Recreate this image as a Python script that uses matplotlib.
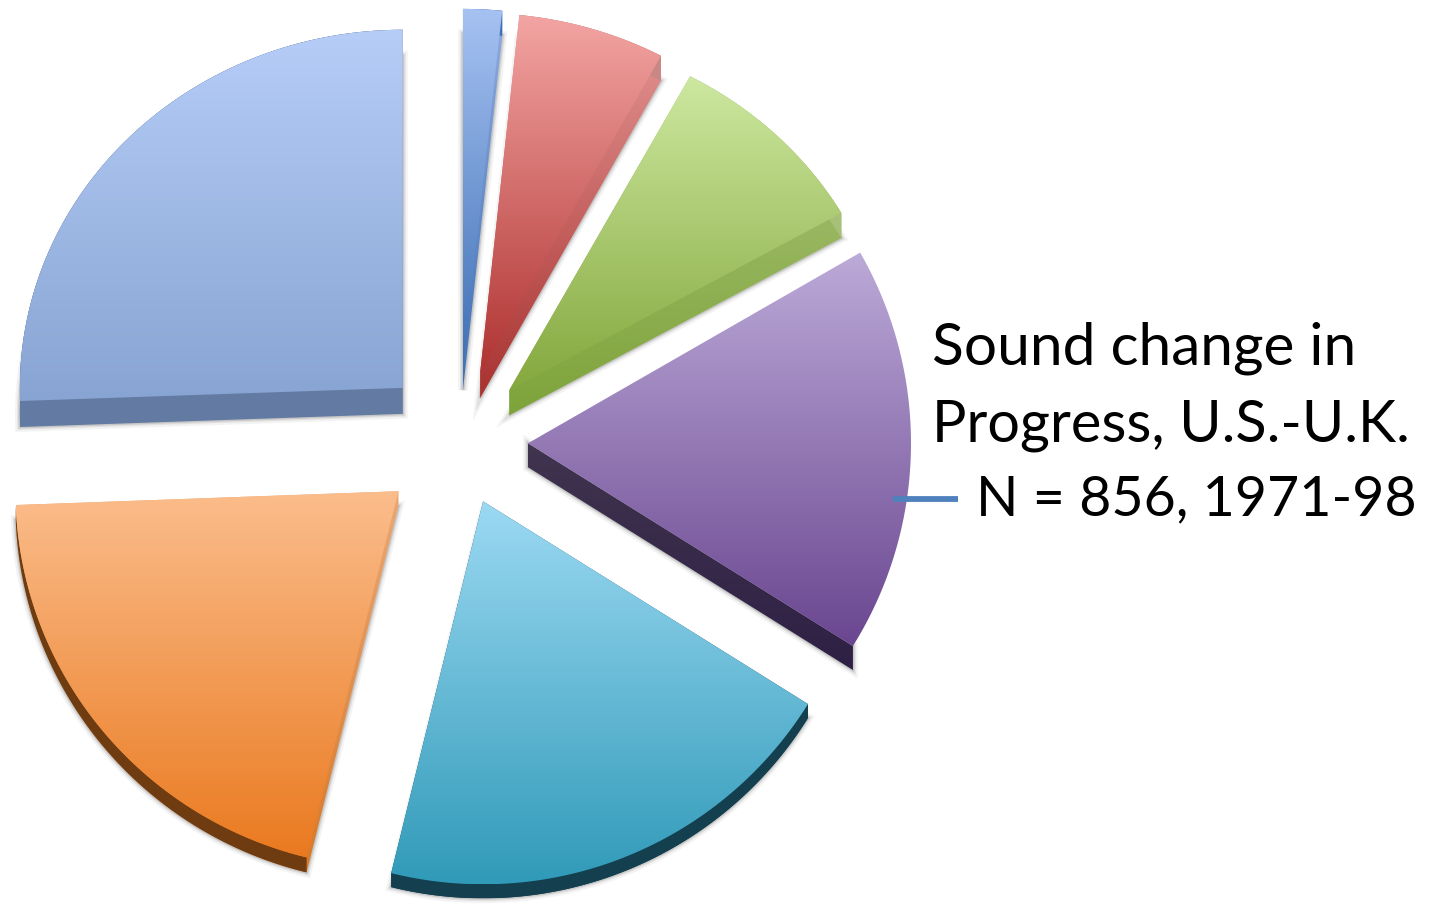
import numpy as np
import matplotlib
matplotlib.use("Agg")
import matplotlib.pyplot as plt
from matplotlib.colors import LinearSegmentedColormap, to_rgb
from matplotlib.patches import Polygon

# share of N = 856, clockwise from twelve o'clock
counts = [14, 53, 76, 147, 171, 176, 219]
top_colors = ["#a6c2f2", "#f3a5a3", "#cde8a0", "#bcaad8", "#9cd9f3", "#fbbd8c", "#b6cdf8"]
bottom_colors = ["#3f70b5", "#b03432", "#85a83e", "#6a4690", "#309ab8", "#ea7a20", "#88a4d2"]
side_top_colors = ["#8fabe0", "#e69a98", "#adc67e", "#40344f", "#1a5566", "#eaa874", "#6a80a8"]
side_bottom_colors = ["#3f70b5", "#a83230", "#7ea33a", "#2e2044", "#143f4e", "#d8792a", "#637ba3"]
rim_colors = ["#3f70b5", "#c98886", "#a7c078", "#2e2044", "#143f4e", "#6e3c10", "#637ba3"]
title_lines = ["Sound change in", "Progress, U.S.-U.K."]
n_line = "N = 856, 1971-98"

W, H = 1441, 905
RADIUS = 383
CENTER = (459, H - 442)
EXPLODE_PX = [77, 72, 72, 69, 64, 78, 78]
DEPTH = [25, 25, 25, 24, 14, 15, 26]
Y_SQUASH = [0.93, 0.94, 0.93, 1, 1, 0.985, 0.935]
SHOW_RIM = [True, True, True, False, True, True, True]


def outline(w, squash, dy=0, n=160):
    cx, cy = w.center
    t = np.radians(np.linspace(w.theta1, w.theta2, n))
    xs = np.r_[cx, cx + w.r * np.cos(t)]
    ys = np.r_[cy, cy + squash * w.r * np.sin(t)] - dy
    return np.column_stack([xs, ys])


def convex_hull(pts):
    pts = sorted(map(tuple, pts))

    def half(seq):
        out = []
        for p in seq:
            while len(out) > 1:
                a, b = out[-2], out[-1]
                if (b[0] - a[0]) * (p[1] - a[1]) - (b[1] - a[1]) * (p[0] - a[0]) > 0:
                    break
                out.pop()
            out.append(p)
        return out[:-1]

    return np.array(half(pts) + half(pts[::-1]))


def gradient_fill(poly, c_top, c_bottom, zorder):
    cmap = LinearSegmentedColormap.from_list("g", [to_rgb(c_top), to_rgb(c_bottom)])
    grad = np.linspace(0, 1, 256).reshape(-1, 1)
    im = ax.imshow(grad, cmap=cmap, aspect="auto", zorder=zorder,
                   extent=(poly[:, 0].min(), poly[:, 0].max(), poly[:, 1].min(), poly[:, 1].max()))
    im.set_clip_path(Polygon(poly, closed=True, transform=ax.transData))


fig = plt.figure(figsize=(W / 100, H / 100), dpi=100)
ax = fig.add_axes([0, 0, 1, 1])

wedges, _ = ax.pie(
    counts,
    explode=EXPLODE_PX,
    startangle=90,
    counterclock=False,
    radius=RADIUS,
    center=CENTER,
    wedgeprops={"linewidth": 0, "facecolor": "none"},
)

for i, w in enumerate(wedges):
    top = outline(w, Y_SQUASH[i])
    low = outline(w, Y_SQUASH[i], DEPTH[i])

    if SHOW_RIM[i]:
        side = convex_hull(np.vstack([top, low]))
    else:
        # only the radial edge has a visible side
        side = np.array([top[0], top[1], low[1], low[0]])

    # soft grey shadow around the bottom of the slice
    shadow = low if SHOW_RIM[i] else side
    for lw, alpha in [(7, 0.06), (4, 0.10), (2, 0.16)]:
        ax.add_patch(Polygon(shadow, closed=True, facecolor="none",
                             edgecolor="#404040", alpha=alpha, linewidth=lw, zorder=1))

    gradient_fill(side, side_top_colors[i], side_bottom_colors[i], 2)

    # outer rim, only shows on the lower slices
    if SHOW_RIM[i]:
        rim = np.vstack([top[1:], low[1:][::-1]])
        ax.add_patch(Polygon(rim, closed=True, facecolor=rim_colors[i], linewidth=0, zorder=2.5))

    gradient_fill(top, top_colors[i], bottom_colors[i], 3)

ax.set_xlim(0, W)
ax.set_ylim(0, H)
ax.set_aspect("auto")
ax.axis("off")

ax.plot([893, 958], [H - 499.5, H - 499.5], color="#4f81bd", linewidth=4.2,
        solid_capstyle="butt", zorder=4)

text_style = {"family": "Lato", "color": "black", "va": "center", "zorder": 5}
ax.text(932, H - 348, title_lines[0], fontsize=42.2, **text_style)
ax.text(932, H - 426, title_lines[1], fontsize=41.5, **text_style)
ax.text(976, H - 500, n_line, fontsize=40, **text_style)

fig.savefig("out.png", dpi=100)
